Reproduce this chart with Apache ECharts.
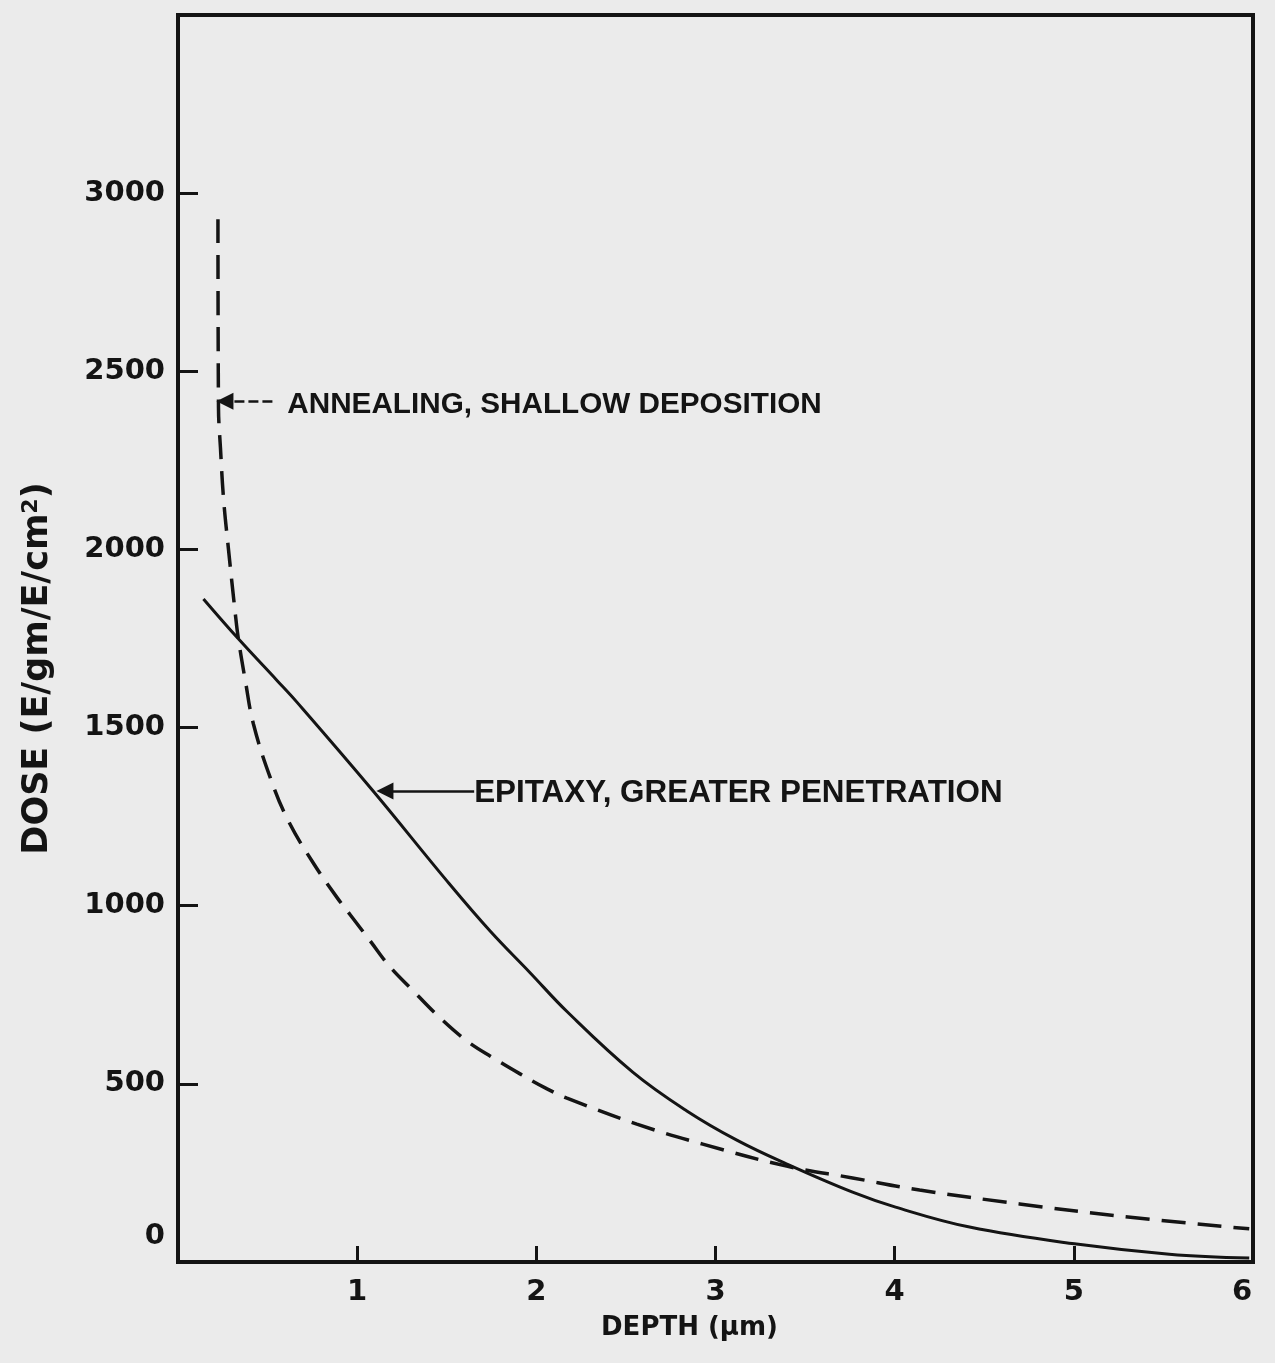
<!DOCTYPE html>
<html>
<head>
<meta charset="utf-8">
<script src="https://cdn.jsdelivr.net/npm/echarts@6/dist/echarts.min.js"></script>
<style>
html,body{margin:0;padding:0;background:#ebebeb;}
#chart{width:1275px;height:1363px;}
</style>
</head>
<body>
<div id="chart"></div>
<script>
// ---- data ----
const xTicks = [0, 1, 2, 3, 4, 5, 6];
const yTicks = [0, 500, 1000, 1500, 2000, 2500, 3000, 3500];

// solid: epitaxy, greater penetration
const epiDepth = [0.142, 0.337, 0.555, 0.666, 1.089, 1.502, 1.742, 1.965, 2.171, 2.538, 2.840, 3.119, 3.398, 3.765, 4.005, 4.418, 5.003, 5.533, 5.979];
const epiDose  = [1861, 1749, 1631, 1570, 1322, 1069, 929, 812, 703, 533, 424, 342, 275, 196, 154, 98, 51, 22, 11];

// dashed: annealing, shallow deposition
const annDepth = [0.223, 0.226, 0.237, 0.254, 0.281, 0.320, 0.337, 0.376, 0.421, 0.516, 0.616, 0.755, 0.889, 0.962, 1.073, 1.184, 1.313, 1.463, 1.614, 1.759, 1.909, 2.060, 2.171, 2.561, 2.929, 3.397, 3.765, 4.139, 4.697, 5.254, 5.979];
const annDose  = [2927, 2397, 2285, 2144, 2004, 1819, 1749, 1631, 1510, 1358, 1238, 1120, 1022, 974, 901, 828, 761, 685, 620, 573, 528, 486, 460, 387, 331, 269, 236, 202, 163, 129, 93];

// annotations (data coordinates)
const annText = 'ANNEALING, SHALLOW DEPOSITION';
const annArrowFrom = [0.527, 2416];
const annArrowTo = [0.262, 2416];
const annTextAt = [0.61, 2405];

const epiText = 'EPITAXY, GREATER PENETRATION';
const epiArrowFrom = [1.653, 1322];
const epiArrowTo = [1.155, 1322];
const epiTextAt = [1.653, 1314];

// ---- chart ----
const INK = '#141414';
const tickFont = '"DejaVu Sans", sans-serif';
const noteFont = '"Liberation Sans", Arial, sans-serif';

const zip = (a, b) => a.map((v, i) => [v, b[i]]);

const chart = echarts.init(document.getElementById('chart'), null, {renderer: 'canvas'});

function note(textAt, text, size) {
  return {
    symbol: 'rect', symbolSize: 0, silent: true,
    label: {
      show: true, position: 'right', distance: 0,
      formatter: text, color: INK,
      fontFamily: noteFont, fontWeight: 'bold', fontSize: size
    },
    data: [{coord: textAt, value: 0}]
  };
}
function arrow(from, to, type) {
  return {
    silent: true, symbol: ['none', 'triangle'], symbolSize: 17,
    label: {show: false},
    lineStyle: {color: INK, width: 2.5, type: type},
    emphasis: {disabled: true},
    data: [[{coord: from}, {coord: to}]]
  };
}

chart.setOption({
  animation: false,
  backgroundColor: '#ebebeb',
  grid: {left: 178, right: 22, top: 15, bottom: 101, show: true, borderColor: INK, borderWidth: 4},
  xAxis: {
    type: 'value', min: xTicks[0], max: xTicks[xTicks.length - 1], interval: 1,
    axisLine: {show: true, lineStyle: {color: INK, width: 4}},
    axisTick: {show: true, inside: true, length: 16, lineStyle: {color: INK, width: 3}},
    splitLine: {show: false},
    axisLabel: {
      margin: 16, color: INK, fontFamily: tickFont, fontWeight: 'bold', fontSize: 29,
      formatter: v => v === 0 ? '' : (v === 6 ? '{r|6}' : String(v)),
      rich: {r: {fontFamily: tickFont, fontWeight: 'bold', fontSize: 29, color: INK, padding: [0, 22, 0, 0]}}
    },
    name: 'DEPTH (μm)', nameLocation: 'middle', nameGap: 53,
    nameTextStyle: {color: INK, fontFamily: tickFont, fontWeight: 'bold', fontSize: 26, padding: [0, 52, 0, 0]}
  },
  yAxis: {
    type: 'value', min: yTicks[0], max: yTicks[yTicks.length - 1], interval: 500,
    axisLine: {show: true, lineStyle: {color: INK, width: 4}},
    axisTick: {show: true, inside: true, length: 20, lineStyle: {color: INK, width: 3}},
    splitLine: {show: false},
    axisLabel: {
      margin: 13, color: INK, fontFamily: tickFont, fontWeight: 'bold', fontSize: 29,
      formatter: v => v === 0 ? '{z|0}' : (v === 3500 ? '' : String(v)),
      rich: {z: {fontFamily: tickFont, fontWeight: 'bold', fontSize: 29, color: INK, padding: [0, 0, 52, 0]}}
    },
    name: '{a|DOSE (E/gm/E/cm}{s|2}{a|)}', nameLocation: 'middle', nameGap: 123, nameRotate: 90,
    nameTextStyle: {
      padding: [0, 60, 0, 0],
      rich: {
        a: {color: INK, fontFamily: tickFont, fontWeight: 'bold', fontSize: 35},
        s: {color: INK, fontFamily: tickFont, fontWeight: 'bold', fontSize: 22, verticalAlign: 'top'}
      }
    }
  },
  series: [
    {
      name: 'Epitaxy', type: 'line', data: zip(epiDepth, epiDose),
      smooth: 0.4, showSymbol: false, symbol: 'none',
      lineStyle: {color: INK, width: 3},
      markLine: arrow(epiArrowFrom, epiArrowTo, 'solid'),
      markPoint: note(epiTextAt, epiText, 31.4)
    },
    {
      name: 'Annealing', type: 'line', data: zip(annDepth, annDose),
      smooth: 0.4, showSymbol: false, symbol: 'none',
      lineStyle: {color: INK, width: 3.5, type: [24, 12]},
      markLine: arrow(annArrowFrom, annArrowTo, [10, 4]),
      markPoint: note(annTextAt, annText, 29.7)
    }
  ]
});
</script>
</body>
</html>
